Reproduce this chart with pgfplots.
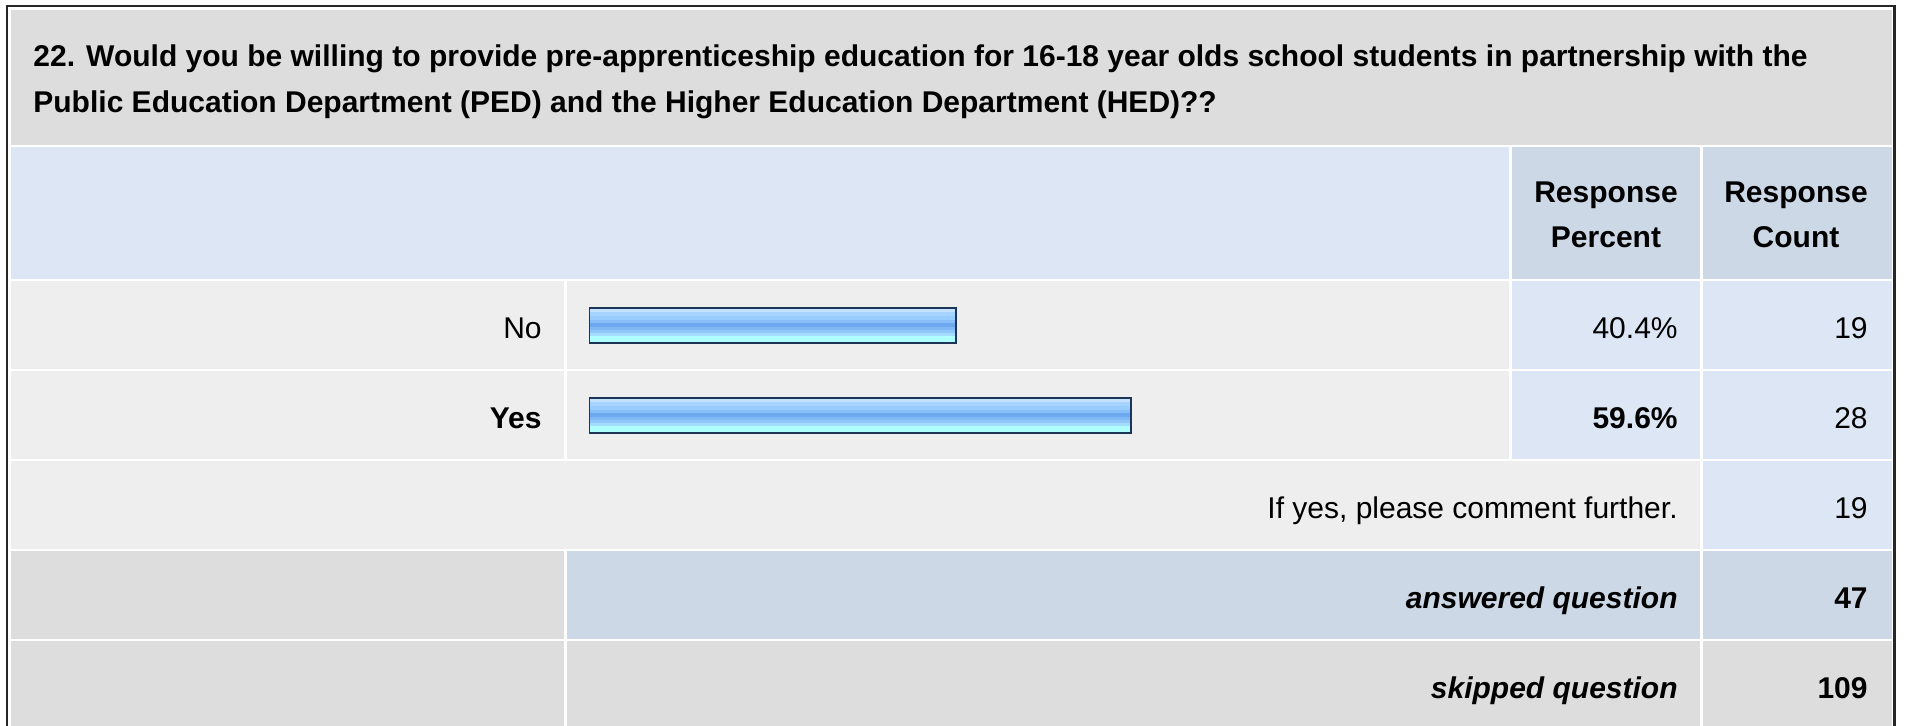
\documentclass[border=0pt]{standalone}
\usepackage{fontspec}
\setmainfont{Liberation Sans}
\usepackage{pgfplots}
\pgfplotsset{compat=1.18}

\definecolor{titlegray}{HTML}{DDDDDD}
\definecolor{rowgray}{HTML}{EEEEEE}
\definecolor{cellblue}{HTML}{DCE6F4}
\definecolor{celldark}{HTML}{CCD8E6}
\definecolor{barline}{HTML}{1C3557}

% striped look of the bars, bottom to top
\pgfdeclareverticalshading{barshade}{100bp}{%
  color(0bp)=(rgb,255:red,176;green,255;blue,255);
  color(35.5bp)=(rgb,255:red,176;green,255;blue,255);
  color(36bp)=(rgb,255:red,163;green,220;blue,255);
  color(40bp)=(rgb,255:red,163;green,220;blue,255);
  color(40.5bp)=(rgb,255:red,144;green,198;blue,250);
  color(44.5bp)=(rgb,255:red,144;green,198;blue,250);
  color(45bp)=(rgb,255:red,128;green,184;blue,245);
  color(48bp)=(rgb,255:red,128;green,184;blue,245);
  color(48.5bp)=(rgb,255:red,110;green,168;blue,238);
  color(54bp)=(rgb,255:red,110;green,168;blue,238);
  color(54.5bp)=(rgb,255:red,136;green,191;blue,248);
  color(58.5bp)=(rgb,255:red,136;green,191;blue,248);
  color(59bp)=(rgb,255:red,153;green,204;blue,255);
  color(64.5bp)=(rgb,255:red,153;green,204;blue,255);
  color(65bp)=(rgb,255:red,166;green,211;blue,255);
  color(70bp)=(rgb,255:red,166;green,211;blue,255);
  color(70.5bp)=(rgb,255:red,196;green,226;blue,255);
  color(100bp)=(rgb,255:red,196;green,226;blue,255)}

\newcommand\tx{\fontsize{15}{15}\selectfont}

\begin{document}
\begin{tikzpicture}
\begin{scope}[x=0.5pt,y=-0.5pt]
  \useasboundingbox (0,0) rectangle (1907,726);
  \fill[white] (0,0) rectangle (1907,726);
  % frame
  \draw[black!85,line width=1.25pt] (7,730) -- (7,6.2) -- (1894.7,6.2) -- (1894.7,730);
  % title
  \fill[titlegray] (10.5,10.5) rectangle (1892,145);
  % header
  \fill[cellblue] (10.5,147) rectangle (1509,279);
  \fill[celldark] (1511.5,147) rectangle (1700,279);
  \fill[celldark] (1702.5,147) rectangle (1892,279);
  % No / Yes rows
  \foreach \ya/\yb in {281/369,371/459}{
    \fill[rowgray] (10.5,\ya) rectangle (564,\yb);
    \fill[rowgray] (567,\ya) rectangle (1509,\yb);
    \fill[cellblue] (1511.5,\ya) rectangle (1700,\yb);
    \fill[cellblue] (1702.5,\ya) rectangle (1892,\yb);
  }
  % comment row
  \fill[rowgray] (10.5,461) rectangle (1700,549);
  \fill[cellblue] (1702.5,461) rectangle (1892,549);
  % answered
  \fill[titlegray] (10.5,551) rectangle (564,639);
  \fill[celldark] (567,551) rectangle (1700,639);
  \fill[celldark] (1702.5,551) rectangle (1892,639);
  % skipped
  \fill[titlegray] (10.5,641) rectangle (564,730);
  \fill[titlegray] (567,641) rectangle (1700,730);
  \fill[titlegray] (1702.5,641) rectangle (1892,730);

  \begin{scope}[every node/.style={inner sep=0pt,font=\tx}]
  \node[anchor=base west,font=\tx\bfseries] at (33,67) {22. Would you be willing to provide pre-apprenticeship education for 16-18 year olds school students in partnership with the};
  \node[anchor=base west,font=\tx\bfseries] at (33,113) {Public Education Department (PED) and the Higher Education Department (HED)??};

  \node[anchor=base,font=\tx\bfseries] at (1606,203) {Response};
  \node[anchor=base,font=\tx\bfseries] at (1606,248) {Percent};
  \node[anchor=base,font=\tx\bfseries] at (1796,203) {Response};
  \node[anchor=base,font=\tx\bfseries] at (1796,248) {Count};

  \node[anchor=base east] at (542,339) {No};
  \node[anchor=base east] at (1678,339) {40.4\%};
  \node[anchor=base east] at (1868,339) {19};

  \node[anchor=base east,font=\tx\bfseries] at (542,429) {Yes};
  \node[anchor=base east,font=\tx\bfseries] at (1678,429) {59.6\%};
  \node[anchor=base east] at (1868,429) {28};

  \node[anchor=base east] at (1678,519) {If yes, please comment further.};
  \node[anchor=base east] at (1868,519) {19};

  \node[anchor=base east,font=\tx\bfseries\itshape] at (1678,609) {answered question};
  \node[anchor=base east,font=\tx\bfseries] at (1868,609) {47};

  \node[anchor=base east,font=\tx\bfseries\itshape] at (1678,699) {skipped question};
  \node[anchor=base east,font=\tx\bfseries] at (1868,699) {109};
  \end{scope}
\end{scope}

% bars: 100% spans 909 px, rows 90 px apart
% one plot per bar so that each bar gets its own shading
\begin{axis}[
  at={(294.5pt,-230.25pt)}, anchor=south west,
  scale only axis, width=454.5pt, height=90pt,
  xmin=0, xmax=100, ymin=-0.5, ymax=1.5,
  hide axis, xbar, bar width=17.5pt,
]
\addplot[draw=barline, line width=1pt, shade, shading=barshade, bar shift=0pt]
  coordinates {(40.4,1)}; % No
\addplot[draw=barline, line width=1pt, shade, shading=barshade, bar shift=0pt]
  coordinates {(59.6,0)}; % Yes
\end{axis}
\end{tikzpicture}
\end{document}
